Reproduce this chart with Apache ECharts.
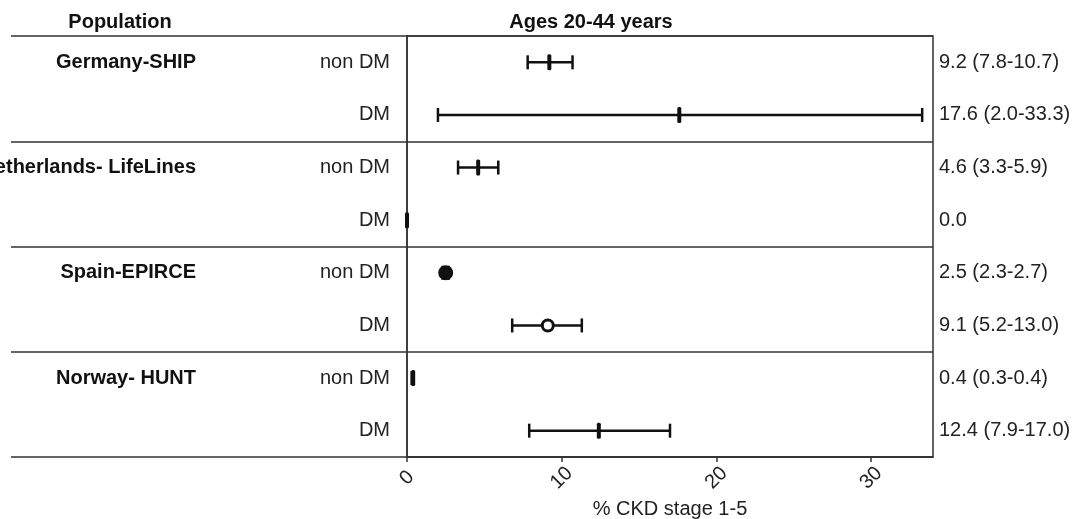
<!DOCTYPE html>
<html>
<head>
<meta charset="utf-8">
<script src="https://cdn.jsdelivr.net/npm/echarts@6/dist/echarts.min.js"></script>
<style>
  html, body { margin: 0; padding: 0; background: #fff; }
  #chart { width: 1075px; height: 519px; }
</style>
</head>
<body>
<div id="chart"></div>
<script>
// ---- data ----
const groups = ['Germany-SHIP', 'Netherlands- LifeLines', 'Spain-EPIRCE', 'Norway- HUNT'];
const subgroups = ['non DM', 'DM'];
const estimate = [9.2, 17.6, 4.6, 0.0, 2.5, 9.1, 0.4, 12.4];
const lower = [7.8, 2.0, 3.3, 0.0, 2.3, 6.8, 0.3, 7.9];
const upper = [10.7, 33.3, 5.9, 0.0, 2.7, 11.3, 0.4, 17.0];
const estimateLabels = ['9.2 (7.8-10.7)', '17.6 (2.0-33.3)', '4.6 (3.3-5.9)', '0.0',
  '2.5 (2.3-2.7)', '9.1 (5.2-13.0)', '0.4 (0.3-0.4)', '12.4 (7.9-17.0)'];
const xTicks = [0, 10, 20, 30];
const headerLeft = 'Population';
const headerMain = 'Ages 20-44 years';
const xTitle = '% CKD stage 1-5';

// ---- derived rows ----
const rowKeys = [], rowSub = [], rowGroup = [];
groups.forEach(g => subgroups.forEach((s, j) => {
  rowKeys.push(g + ' | ' + s);
  rowSub.push(s);
  rowGroup.push(j === 0 ? g : '');
}));
const seriesData = estimate.map((v, i) => [i, v, lower[i], upper[i]]);

// ---- styles ----
const FONT = "'Liberation Sans', Arial, sans-serif";
const INK = '#111';
const LINE = '#333';
const markerKind = { 4: 'dot', 5: 'ring' };

const chart = echarts.init(document.getElementById('chart'), null, { renderer: 'canvas' });

chart.setOption({
  animation: false,
  backgroundColor: '#fff',
  grid: {
    left: 407, right: 142, top: 36, bottom: 62,
    containLabel: false, outerBoundsMode: 'none',
    show: true, borderColor: LINE, borderWidth: 1.5, backgroundColor: 'transparent'
  },
  xAxis: {
    type: 'value', min: 0, max: 34, interval: 10,
    axisLine: { show: true, lineStyle: { color: LINE, width: 1.5 } },
    axisTick: { show: true, customValues: xTicks, length: 5, lineStyle: { color: LINE, width: 1.5 } },
    axisLabel: {
      customValues: xTicks, rotate: 45, align: 'center', verticalAlign: 'middle',
      margin: 21, fontFamily: FONT, fontSize: 20, color: '#222'
    },
    splitLine: { show: false },
    name: xTitle, nameLocation: 'middle', nameGap: 40,
    nameTextStyle: { fontFamily: FONT, fontSize: 20, color: '#222' }
  },
  yAxis: [
    {
      type: 'category', data: rowKeys, inverse: true, position: 'left',
      axisLine: { show: false }, axisTick: { show: false }, splitLine: { show: false },
      axisLabel: {
        interval: 0, margin: 17, fontFamily: FONT, fontSize: 20, color: '#222',
        formatter: (v, i) => rowSub[i]
      }
    },
    {
      type: 'category', data: rowKeys, inverse: true, position: 'left',
      axisLine: { show: false }, axisTick: { show: false }, splitLine: { show: false },
      axisLabel: {
        interval: 0, margin: 211, fontFamily: FONT, fontSize: 20, fontWeight: 'bold', color: INK,
        formatter: (v, i) => rowGroup[i]
      }
    },
    {
      type: 'category', data: rowKeys, inverse: true, position: 'right',
      axisLine: { show: false }, axisTick: { show: false }, splitLine: { show: false },
      axisLabel: {
        interval: 0, margin: 6, fontFamily: FONT, fontSize: 20, color: '#222',
        formatter: (v, i) => estimateLabels[i]
      }
    },
    {
      type: 'category', data: groups, inverse: true, position: 'left',
      axisLine: { show: true, lineStyle: { color: LINE, width: 1.5 } },
      axisTick: { show: true, interval: 0, length: 396, lineStyle: { color: LINE, width: 1.5 } },
      axisLabel: { show: false },
      splitLine: { show: true, interval: 0, lineStyle: { color: LINE, width: 1.5 } }
    }
  ],
  graphic: [
    { type: 'text', x: 120, y: 22, style: { text: headerLeft, font: 'bold 20px ' + FONT, fill: INK, align: 'center', verticalAlign: 'middle' } },
    { type: 'text', x: 591, y: 22, style: { text: headerMain, font: 'bold 20px ' + FONT, fill: INK, align: 'center', verticalAlign: 'middle' } }
  ],
  series: [{
    type: 'custom',
    coordinateSystem: 'cartesian2d',
    xAxisIndex: 0, yAxisIndex: 0,
    encode: { y: 0, x: [1, 2, 3] },
    data: seriesData,
    renderItem: function (params, api) {
      const row = api.value(0);
      const m = api.value(1), lo = api.value(2), hi = api.value(3);
      const pm = api.coord([m, row]);
      const pl = api.coord([lo, row]);
      const ph = api.coord([hi, row]);
      const y = pm[1];
      const kind = markerKind[row] || 'tick';
      const children = [];
      const st = { stroke: INK, lineWidth: 2.5 };
      if (ph[0] - pl[0] > 1) {
        children.push({ type: 'line', shape: { x1: pl[0], y1: y, x2: ph[0], y2: y }, style: st });
        children.push({ type: 'line', shape: { x1: pl[0], y1: y - 7, x2: pl[0], y2: y + 7 }, style: st });
        children.push({ type: 'line', shape: { x1: ph[0], y1: y - 7, x2: ph[0], y2: y + 7 }, style: st });
      }
      if (kind === 'tick') {
        children.push({ type: 'rect', shape: { x: pm[0] - 2, y: y - 8, width: 4, height: 16, r: 1.5 }, style: { fill: INK } });
      } else if (kind === 'dot') {
        children.push({ type: 'circle', shape: { cx: pm[0], cy: y, r: 7.5 }, style: { fill: INK } });
      } else if (kind === 'ring') {
        children.push({ type: 'circle', shape: { cx: pm[0], cy: y, r: 5.5 }, style: { fill: '#fff', stroke: INK, lineWidth: 3 } });
      }
      return { type: 'group', children: children };
    }
  }]
});
</script>
</body>
</html>
